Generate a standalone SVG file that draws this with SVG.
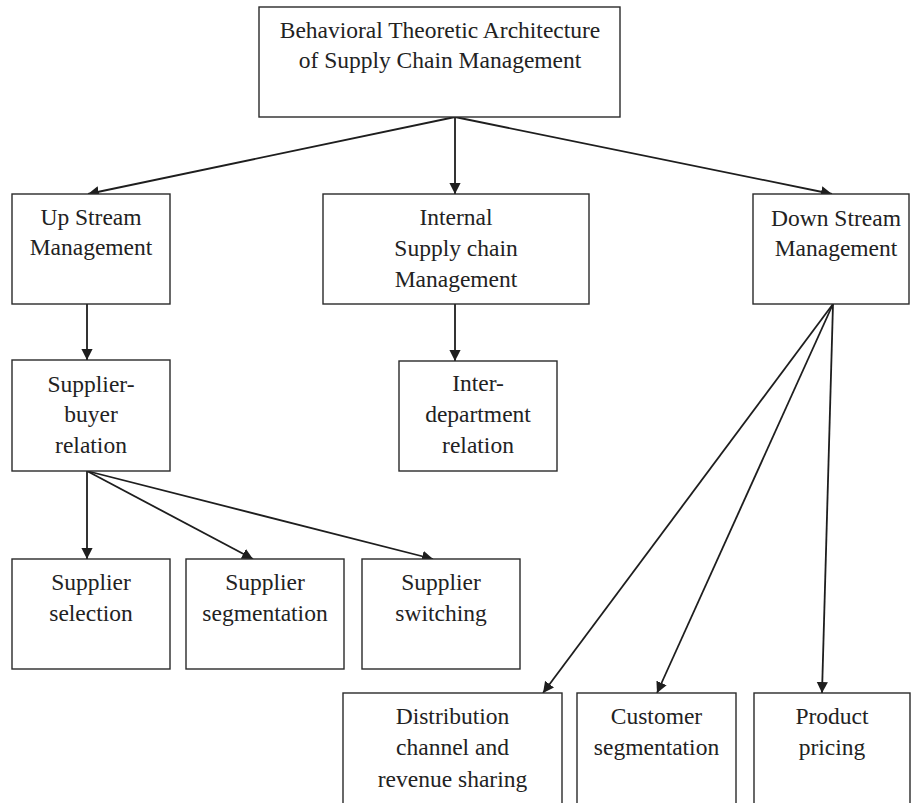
<svg xmlns="http://www.w3.org/2000/svg" width="911" height="803" viewBox="0 0 911 803">
<defs>
<style>
.box{fill:#fff;stroke:#2a2a2a;stroke-width:1.4}
.lbl{font-family:"Liberation Serif","Times New Roman",serif;font-size:23.5px;fill:#222;text-anchor:middle}
.con{stroke:#1e1e1e;stroke-width:1.8;fill:none;marker-end:url(#arr)}
</style>
<marker id="arr" markerUnits="userSpaceOnUse" markerWidth="12" markerHeight="12" viewBox="0 -6 12 12" refX="11" refY="0" orient="auto">
<path d="M0,-5.6 L11,0 L0,5.6 Z" fill="#1e1e1e"/>
</marker>
</defs>
<rect width="911" height="803" fill="#fff"/>
<g id="connectors">
<line class="con" x1="455" y1="117" x2="88" y2="194"/>
<line class="con" x1="455" y1="117" x2="455" y2="194"/>
<line class="con" x1="455" y1="117" x2="832" y2="194"/>
<line class="con" x1="87" y1="304" x2="87" y2="360"/>
<line class="con" x1="455" y1="304" x2="455" y2="361"/>
<line class="con" x1="87" y1="471" x2="87" y2="559"/>
<line class="con" x1="87" y1="471" x2="253" y2="559"/>
<line class="con" x1="87" y1="471" x2="433" y2="559"/>
<line class="con" x1="833" y1="304" x2="543" y2="693"/>
<line class="con" x1="833" y1="304" x2="657" y2="693"/>
<line class="con" x1="833" y1="304" x2="822" y2="693"/>
</g>
<g id="root">
<rect class="box" x="259" y="7" width="361" height="110"/>
<text class="lbl" x="440" y="38">Behavioral Theoretic Architecture</text>
<text class="lbl" x="440" y="68">of Supply Chain Management</text>
</g>
<g id="upstream">
<rect class="box" x="12" y="194" width="158" height="110"/>
<text class="lbl" x="91" y="225">Up Stream</text>
<text class="lbl" x="91" y="255">Management</text>
</g>
<g id="internal">
<rect class="box" x="323" y="194" width="266" height="110"/>
<text class="lbl" x="456" y="225">Internal</text>
<text class="lbl" x="456" y="256">Supply chain</text>
<text class="lbl" x="456" y="287">Management</text>
</g>
<g id="downstream">
<rect class="box" x="753" y="194" width="156" height="110"/>
<text class="lbl" x="836" y="226">Down Stream</text>
<text class="lbl" x="836" y="256">Management</text>
</g>
<g id="supplier-buyer">
<rect class="box" x="12" y="360" width="158" height="111"/>
<text class="lbl" x="91" y="391.5">Supplier-</text>
<text class="lbl" x="91" y="422">buyer</text>
<text class="lbl" x="91" y="453">relation</text>
</g>
<g id="inter-department">
<rect class="box" x="399" y="361" width="158" height="110"/>
<text class="lbl" x="478" y="391">Inter-</text>
<text class="lbl" x="478" y="422">department</text>
<text class="lbl" x="478" y="453">relation</text>
</g>
<g id="supplier-selection">
<rect class="box" x="12" y="559" width="158" height="110"/>
<text class="lbl" x="91" y="590">Supplier</text>
<text class="lbl" x="91" y="621">selection</text>
</g>
<g id="supplier-segmentation">
<rect class="box" x="186" y="559" width="158" height="110"/>
<text class="lbl" x="265" y="590">Supplier</text>
<text class="lbl" x="265" y="621">segmentation</text>
</g>
<g id="supplier-switching">
<rect class="box" x="362" y="559" width="158" height="110"/>
<text class="lbl" x="441" y="590">Supplier</text>
<text class="lbl" x="441" y="621">switching</text>
</g>
<g id="distribution">
<rect class="box" x="343" y="693" width="219" height="115"/>
<text class="lbl" x="452.5" y="723.5">Distribution</text>
<text class="lbl" x="452.5" y="755">channel and</text>
<text class="lbl" x="452.5" y="786.5">revenue sharing</text>
</g>
<g id="customer-segmentation">
<rect class="box" x="577" y="693" width="159" height="115"/>
<text class="lbl" x="656.5" y="723.5">Customer</text>
<text class="lbl" x="656.5" y="755">segmentation</text>
</g>
<g id="product-pricing">
<rect class="box" x="754" y="693" width="156" height="115"/>
<text class="lbl" x="832" y="723.5">Product</text>
<text class="lbl" x="832" y="755">pricing</text>
</g>
</svg>
